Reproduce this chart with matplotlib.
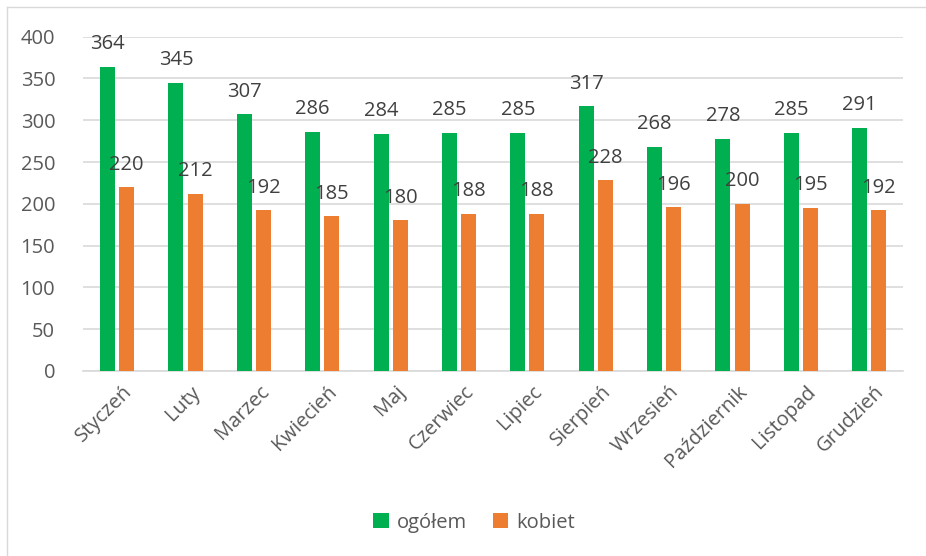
import numpy as np
import matplotlib.pyplot as plt
from matplotlib.lines import Line2D
from matplotlib.transforms import ScaledTranslation

months = ['Styczeń', 'Luty', 'Marzec', 'Kwiecień', 'Maj', 'Czerwiec', 'Lipiec',
          'Sierpień', 'Wrzesień', 'Październik', 'Listopad', 'Grudzień']
ogolem = [364, 345, 307, 286, 284, 285, 285, 317, 268, 278, 285, 291]
kobiet = [220, 212, 192, 185, 180, 188, 188, 228, 196, 200, 195, 192]

plt.rcParams['font.family'] = ['Open Sans', 'DejaVu Sans']
txt = '#595959'

fig = plt.figure(figsize=(9.26, 5.56), dpi=100)
ax = fig.add_axes([0.0896, 0.333, 0.886, 0.601])

x = np.arange(len(months))
w = 0.22
ax.bar(x - 0.14, ogolem, w, color='#00b050', label='ogółem', zorder=3)
ax.bar(x + 0.14, kobiet, w, color='#ed7d31', label='kobiet', zorder=3)

for i in range(len(months)):
    ax.annotate(str(ogolem[i]), (x[i] - 0.14, ogolem[i]), xytext=(0, 9),
                textcoords='offset points', ha='center', va='bottom',
                fontsize=14.5, color='#404040')
    ax.annotate(str(kobiet[i]), (x[i] + 0.14, kobiet[i]), xytext=(0, 9),
                textcoords='offset points', ha='center', va='bottom',
                fontsize=14.5, color='#404040')

ax.set_xlim(-0.5, len(months) - 0.5)
ax.set_ylim(0, 400)
ax.set_yticks(range(0, 401, 50))
ax.yaxis.grid(True, color='#d9d9d9', linewidth=1.2, zorder=0)
ax.set_xticks(x)
ax.set_xticklabels(months, rotation=45, ha='right', rotation_mode='anchor')
ax.tick_params(axis='both', length=0, labelsize=14.5, colors=txt, pad=8)
ax.tick_params(axis='y', pad=20)
shift = ScaledTranslation(5 / 100, 0, fig.dpi_scale_trans)
for lab in ax.get_xticklabels():
    lab.set_transform(lab.get_transform() + shift)
for s in ['top', 'right', 'left']:
    ax.spines[s].set_visible(False)
ax.spines['bottom'].set_color('#d9d9d9')
ax.spines['bottom'].set_linewidth(1.2)

fig.legend(loc='center', bbox_to_anchor=(0.512, 0.06), ncol=2, frameon=False,
           fontsize=14.5, labelcolor=txt, handlelength=0.75, handleheight=0.75,
           columnspacing=1.3, handletextpad=0.4)

# outer chart border
fig.add_artist(Line2D([7/926, 7/926], [0, 1 - 7/556], color='#d9d9d9', lw=1,
                      transform=fig.transFigure))
fig.add_artist(Line2D([7/926, 1], [1 - 7/556, 1 - 7/556], color='#d9d9d9', lw=1,
                      transform=fig.transFigure))

fig.savefig('out.png', dpi=100)
